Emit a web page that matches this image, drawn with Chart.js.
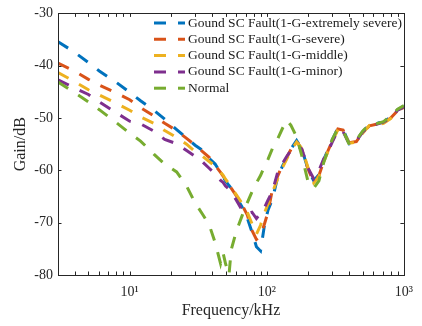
<!DOCTYPE html>
<html>
<head>
<meta charset="utf-8">
<title>Gain vs Frequency</title>
<script src="https://cdn.jsdelivr.net/npm/chart.js@4.4.1/dist/chart.umd.min.js"></script>
<style>
  html, body { margin: 0; padding: 0; background: #fff; }
  #wrap { width: 422px; height: 326px; }
</style>
</head>
<body>
<div id="wrap"><canvas id="gainChart" width="422" height="326"></canvas></div>
<script>
// frequency points (kHz) shared by every curve
const freqKHz = [3, 4, 5, 6, 8, 10, 12, 15, 18, 22, 26, 30, 34, 38, 42, 46, 48, 50, 53, 55,
    60, 66, 72, 78, 84, 90, 96, 102, 110, 120, 130, 140, 150, 165, 180, 200, 220, 240, 260, 280,
    300, 330, 360, 400, 450, 500, 560, 630, 710, 800, 900, 1000];

// gain (dB)
const extremelySevere = [-35.4, -37.5, -39.4, -41.0, -43.2, -45.1, -46.7, -48.5, -50.2, -52.2,
    -53.8, -55.2, -56.2, -57.7, -58.8, -60.4, -61.2, -62.0, -62.9, -63.4,
    -65.1, -67.0, -69.1, -71.8, -74.6, -75.4, -70.6, -67.6, -65.5, -61.3,
    -59.2, -57.6, -55.9, -54.3, -55.9, -59.8, -62.0, -60.8, -58.0, -56.0,
    -54.2, -51.9, -52.2, -54.9, -54.3, -52.6, -51.3, -51.0, -50.8, -49.8, -48.4, -47.7];
const severe = [-39.5, -41.1, -42.6, -43.7, -45.2, -46.5, -48.0, -49.6, -51.0, -52.4,
    -53.9, -55.2, -56.4, -57.5, -59.0, -60.4, -61.1, -61.9, -62.7, -63.4,
    -64.9, -66.6, -68.5, -71.5, -73.2, -72.6, -70.3, -68.0, -63.6, -61.1,
    -59.0, -57.5, -56.0, -54.4, -56.0, -59.8, -62.2, -61.0, -58.3, -56.2,
    -54.4, -52.1, -52.3, -54.7, -54.5, -52.8, -51.5, -51.2, -50.9, -50.0, -48.6, -47.9];
const middle = [-41.3, -43.1, -44.6, -45.6, -47.2, -48.5, -49.8, -51.0, -52.4, -53.7,
    -55.0, -56.4, -57.3, -58.3, -59.2, -60.4, -60.9, -61.7, -62.6, -63.2,
    -64.7, -66.3, -68.0, -70.2, -72.2, -70.5, -68.2, -66.4, -64.2, -61.6,
    -59.5, -57.8, -56.2, -54.6, -55.8, -59.5, -62.4, -61.2, -58.4, -56.3,
    -54.5, -52.2, -52.4, -54.8, -54.6, -52.9, -51.4, -51.3, -51.0, -50.1, -48.5, -48.0];
const minor = [-42.7, -44.3, -45.5, -46.9, -49.0, -50.6, -51.1, -52.5, -54.1, -54.9,
    -56.2, -57.3, -58.4, -59.6, -60.7, -61.9, -62.3, -63.0, -63.6, -64.2,
    -65.7, -67.6, -68.3, -68.0, -69.2, -68.2, -67.2, -65.7, -64.0, -60.4,
    -58.7, -57.3, -56.2, -55.3, -55.9, -59.6, -61.6, -60.0, -57.8, -56.4,
    -54.6, -52.3, -52.6, -55.0, -54.4, -52.7, -51.5, -51.2, -50.8, -50.0, -48.5, -47.9];
const normal = [-43.1, -45.2, -46.9, -48.4, -50.9, -52.9, -54.4, -56.9, -58.8, -60.3,
    -63.0, -66.2, -68.4, -70.4, -73.8, -77.8, -75.8, -77.8, -80.0, -75.2,
    -71.6, -68.7, -66.2, -64.1, -62.4, -61.0, -59.3, -57.9, -55.8, -54.0,
    -52.0, -50.4, -51.4, -53.6, -57.2, -62.2, -63.4, -62.0, -58.5, -56.1,
    -54.1, -52.0, -52.4, -55.1, -54.2, -52.5, -51.2, -51.1, -50.7, -49.6, -48.3, -47.6];

const seriesNames = [
    'Gound SC Fault(1-G-extremely severe)',
    'Gound SC Fault(1-G-severe)',
    'Gound SC Fault(1-G-middle)',
    'Gound SC Fault(1-G-minor)',
    'Normal'
];
const seriesValues = [extremelySevere, severe, middle, minor, normal];
const seriesColors = ['#0072BD', '#D95319', '#EDB120', '#7E2F8E', '#77AC30'];

const yTicks = [-80, -70, -60, -50, -40, -30];
const xTickValues = [10, 100, 1000];
const xTickLabels = ['10¹', '10²', '10³'];
const xMinorTicks = [3, 4, 5, 6, 7, 8, 9, 20, 30, 40, 50, 60, 70, 80, 90,
    200, 300, 400, 500, 600, 700, 800, 900];

const serif = "'Liberation Serif', 'Times New Roman', serif";
const axisColor = '#262626';
const dashPattern = [12, 12];

// box round the plot with inward ticks on all four sides
const boxAxes = {
    id: 'boxAxes',
    afterDatasetsDraw(chart) {
        const ctx = chart.ctx;
        const a = chart.chartArea;
        const xs = chart.scales.x, ys = chart.scales.y;
        const tick = 3.5;
        ctx.save();
        ctx.strokeStyle = axisColor;
        ctx.lineWidth = 1;
        ctx.beginPath();
        xTickValues.concat(xMinorTicks).forEach(function (v) {
            const px = Math.round(xs.getPixelForValue(v)) + 0.5;
            if (px < a.left + 1 || px > a.right - 1) return;
            ctx.moveTo(px, a.bottom); ctx.lineTo(px, a.bottom - tick);
            ctx.moveTo(px, a.top); ctx.lineTo(px, a.top + tick);
        });
        yTicks.forEach(function (v) {
            const py = Math.round(ys.getPixelForValue(v)) + 0.5;
            ctx.moveTo(a.left, py); ctx.lineTo(a.left + tick, py);
            ctx.moveTo(a.right, py); ctx.lineTo(a.right - tick, py);
        });
        ctx.stroke();
        ctx.strokeRect(Math.round(a.left) + 0.5, Math.round(a.top) + 0.5,
            Math.round(a.right - a.left), Math.round(a.bottom - a.top));
        ctx.restore();
    }
};

// legend in the top right corner of the plot, MATLAB style
const cornerLegend = {
    id: 'cornerLegend',
    afterDraw(chart) {
        const ctx = chart.ctx;
        const x0 = 154, x1 = 185, textX = 188;
        ctx.save();
        ctx.font = '13.5px ' + serif;
        ctx.textBaseline = 'middle';
        chart.data.datasets.forEach(function (ds, i) {
            const y = 23 + i * 16.3;
            ctx.strokeStyle = ds.borderColor;
            ctx.lineWidth = 3;
            ctx.setLineDash(dashPattern);
            ctx.beginPath();
            ctx.moveTo(x0, y);
            ctx.lineTo(x1, y);
            ctx.stroke();
            ctx.setLineDash([]);
            ctx.fillStyle = '#1a1a1a';
            ctx.fillText(ds.label, textX, y);
        });
        ctx.restore();
    }
};

const datasets = seriesNames.map(function (name, i) {
    return {
        label: name,
        data: freqKHz.map(function (f, j) { return { x: f, y: seriesValues[i][j] }; }),
        borderColor: seriesColors[i],
        backgroundColor: seriesColors[i],
        borderWidth: 3,
        borderDash: dashPattern,
        pointRadius: 0,
        tension: 0,
        fill: false,
        order: seriesNames.length - i
    };
});

const ctx = document.getElementById('gainChart').getContext('2d');
const gainChart = new Chart(ctx, {
    type: 'line',
    data: { datasets: datasets },
    options: {
        responsive: false,
        animation: false,
        devicePixelRatio: 1,
        layout: { padding: { top: 12, right: 14, left: 0, bottom: 0 } },
        plugins: {
            legend: { display: false },
            tooltip: { enabled: false }
        },
        scales: {
            x: {
                type: 'logarithmic',
                min: 3,
                max: 1000,
                grid: { display: false, drawTicks: false },
                border: { display: false },
                afterBuildTicks: function (scale) {
                    scale.ticks = xTickValues.map(function (v) { return { value: v }; });
                },
                afterFit: function (scale) { scale.height = 51; },
                ticks: {
                    autoSkip: false,
                    maxRotation: 0,
                    padding: 9,
                    color: axisColor,
                    font: { family: serif, size: 14 },
                    callback: function (value, index) { return xTickLabels[index]; }
                },
                title: {
                    display: true,
                    text: 'Frequency/kHz',
                    color: axisColor,
                    font: { family: serif, size: 16 },
                    padding: { top: 0, bottom: 6 }
                }
            },
            y: {
                min: -80,
                max: -30,
                grid: { display: false, drawTicks: false },
                border: { display: false },
                afterBuildTicks: function (scale) {
                    scale.ticks = yTicks.map(function (v) { return { value: v }; });
                },
                afterFit: function (scale) { scale.width = 58; },
                ticks: {
                    padding: 5,
                    color: axisColor,
                    font: { family: serif, size: 14 }
                },
                title: {
                    display: true,
                    text: 'Gain/dB',
                    color: axisColor,
                    font: { family: serif, size: 16 },
                    padding: { top: 11, bottom: 0 }
                }
            }
        }
    },
    plugins: [boxAxes, cornerLegend]
});
</script>
</body>
</html>
